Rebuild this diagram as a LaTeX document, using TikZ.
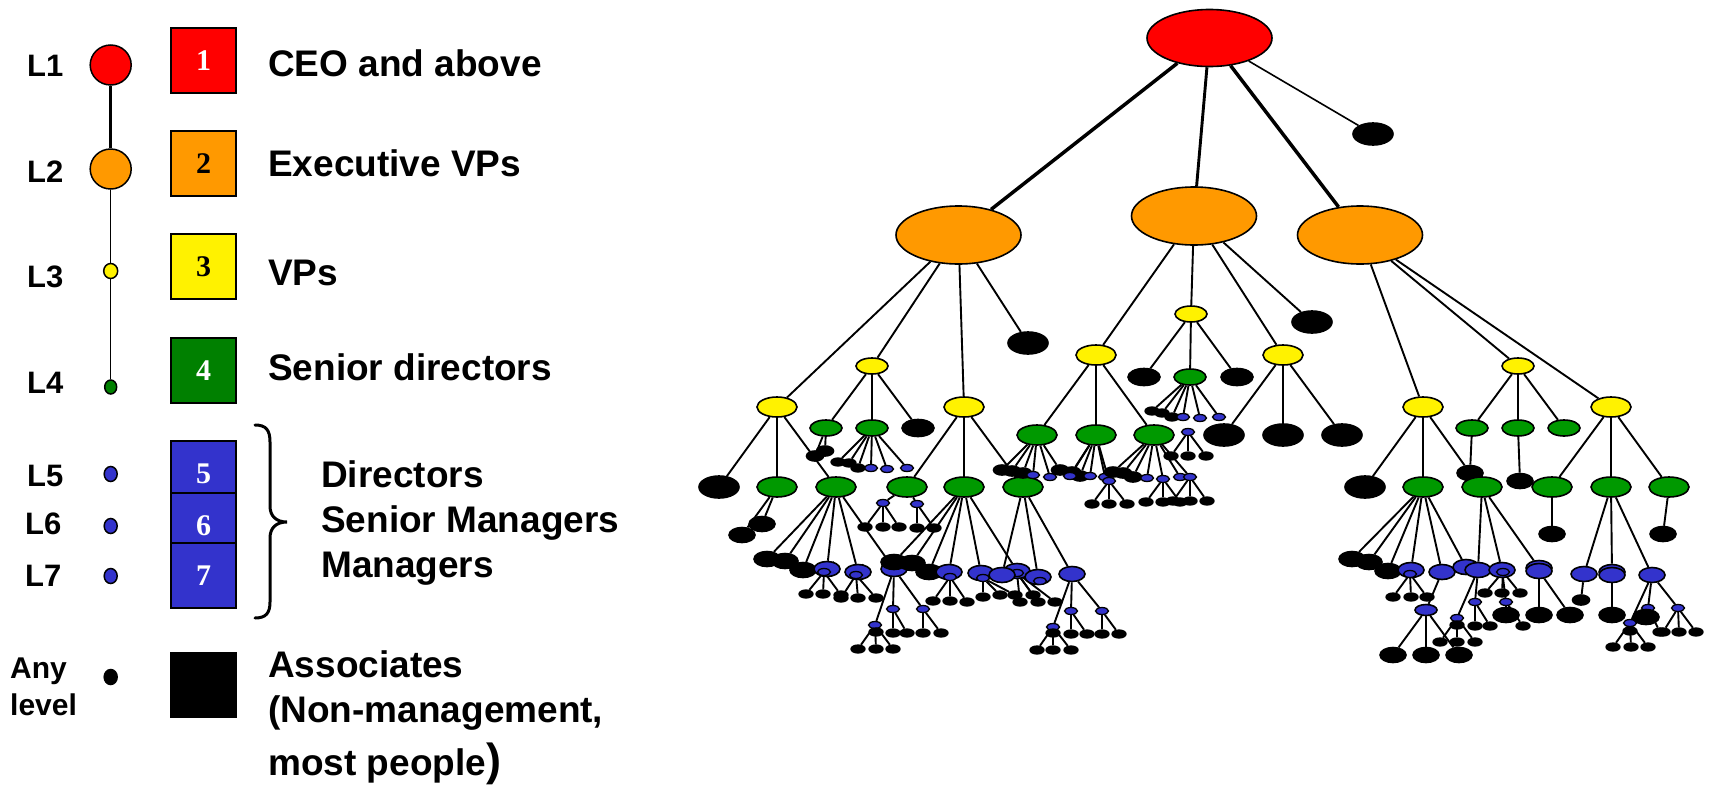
\documentclass[tikz,border=0pt]{standalone}
\usepackage{fontspec}
\setmainfont{Liberation Sans}
\newfontfamily\digitfont{Liberation Serif}
\usetikzlibrary{shapes.geometric}
\pgfdeclarelayer{paper}
\pgfdeclarelayer{links}
\pgfsetlayers{paper,links,main}

\definecolor{evporange}{RGB}{255,153,0}
\definecolor{treegreen}{RGB}{0,153,0}
\definecolor{keygreen}{RGB}{0,128,0}
\definecolor{mgrblue}{RGB}{51,51,204}

\tikzset{
  nd/.style={ellipse, draw=black, line width=1.6pt, inner sep=0pt},
  rootnode/.style={nd, fill=red, minimum width=125pt, minimum height=57pt},
  evp/.style={nd, fill=evporange, minimum width=125pt, minimum height=58pt},
  vpL/.style={nd, fill=yellow, minimum width=40pt, minimum height=20pt},
  vpS/.style={nd, fill=yellow, minimum width=32pt, minimum height=16pt},
  sdL/.style={nd, fill=treegreen, minimum width=40pt, minimum height=20pt},
  sdS/.style={nd, fill=treegreen, minimum width=32pt, minimum height=16pt},
  kL/.style={nd, fill=black, minimum width=40pt, minimum height=22pt},
  kN/.style={nd, fill=black, minimum width=32pt, minimum height=17pt},
  kM/.style={nd, fill=black, minimum width=26pt, minimum height=15pt},
  kS/.style={nd, fill=black, minimum width=17pt, minimum height=10pt},
  kT/.style={nd, fill=black, line width=1.3pt, minimum width=14pt, minimum height=8pt},
  bM/.style={nd, fill=mgrblue, minimum width=26pt, minimum height=15pt},
  bN/.style={nd, fill=mgrblue, minimum width=22pt, minimum height=11pt},
  bS/.style={nd, fill=mgrblue, line width=1.3pt, minimum width=13pt, minimum height=7pt},
  link/.style={line width=1.9pt},
  keydot/.style={ellipse, draw=black, line width=1.5pt, inner sep=0pt},
  keysq/.style={draw=black, line width=1.6pt, minimum size=65pt, inner sep=0pt,
    font={\digitfont\bfseries\fontsize{30}{30}\selectfont}},
  txt/.style={font={\bfseries\fontsize{37}{44}\selectfont}, inner sep=0pt, anchor=base west},
  lvl/.style={font={\bfseries\fontsize{31}{36}\selectfont}, inner sep=0pt, anchor=base west},
  lvlsm/.style={font={\bfseries\fontsize{30}{36}\selectfont}, inner sep=0pt, anchor=base west},
}

% one child node joined to its parent
\newcommand\sub[4]{%
  \node[#1] (#3) at (#4) {};
  \begin{pgfonlayer}{links}\draw[link] (#2) -- (#3);\end{pgfonlayer}}
% a group of children of one style, named prefix-1, prefix-2, ...
\newcommand\kids[4]{%
  \foreach \xx/\yy [count=\ii] in {#4} {%
    \node[#1] (#3-\ii) at (\xx,\yy) {};
    \begin{pgfonlayer}{links}\draw[link] (#2) -- (#3-\ii);\end{pgfonlayer}
  }}

\begin{document}
\begin{tikzpicture}[x=1pt, y=-1pt]
\useasboundingbox (0,0) rectangle (1709,785);
\begin{pgfonlayer}{paper}
  \fill[white] (0,0) rectangle (1709,785);
\end{pgfonlayer}

% ---------------- key ----------------
\node[lvl] (l1) at (27,76) {L1};
\node[lvl] (l2) at (27,182) {L2};
\node[lvl] (l3) at (27,287) {L3};
\node[lvl] (l4) at (27,393) {L4};
\node[lvl] (l5) at (27,486) {L5};
\node[lvl] (l6) at (25,534) {L6};
\node[lvl] (l7) at (25,586) {L7};
\node[lvlsm] (lany) at (10,678) {Any};
\node[lvlsm] (llev) at (10,715) {level};

\node[keydot, fill=red, minimum width=41pt, minimum height=40pt] (c1) at (110.7,65) {};
\node[keydot, fill=evporange, minimum width=41pt, minimum height=40pt] (c2) at (110.7,169) {};
\node[keydot, fill=yellow, minimum width=14pt, minimum height=15pt] (c3) at (110.7,271) {};
\node[keydot, fill=keygreen, minimum width=12pt, minimum height=14pt] (c4) at (110.7,387) {};
\node[keydot, fill=mgrblue, minimum width=13pt, minimum height=15pt] (c5) at (110.7,474) {};
\node[keydot, fill=mgrblue, minimum width=13pt, minimum height=15pt] (c6) at (110.7,526) {};
\node[keydot, fill=mgrblue, minimum width=13pt, minimum height=15pt] (c7) at (110.7,576) {};
\node[keydot, fill=black, minimum width=13pt, minimum height=15pt] (c8) at (110.7,677) {};
\begin{pgfonlayer}{links}
  \draw[line width=3.3pt] (c1) -- (c2);
  \draw[line width=1.4pt] (c2) -- (c3);
  \draw[line width=1.4pt] (c3) -- (c4);
\end{pgfonlayer}

\node[keysq, fill=red, text=white] (s1) at (203.5,60.5) {1};
\node[keysq, fill=evporange, text=black] (s2) at (203.5,163.5) {2};
\node[keysq, fill=yellow, text=black] (s3) at (203.5,266.5) {3};
\node[keysq, fill=keygreen, text=white] (s4) at (203.5,370.5) {4};
\node[keysq, fill=mgrblue, text=white] (s5) at (203.5,473.5) {5};
\node[keysq, fill=mgrblue, text=white] (s6) at (203.5,525.5) {6};
\node[keysq, fill=mgrblue, text=white] (s7) at (203.5,575.5) {7};
\node[keysq, fill=black] (s8) at (203.5,685) {};

\node[txt] (t1) at (268,76) {CEO and above};
\node[txt] (t2) at (268,176) {Executive VPs};
\node[txt] (t3) at (268,285) {VPs};
\node[txt] (t4) at (268,380) {Senior directors};
\node[txt] (t5) at (321,487) {Directors};
\node[txt] (t6) at (321,532) {Senior Managers};
\node[txt] (t7) at (321,577) {Managers};
\node[txt] (t8) at (268,677) {Associates};
\node[txt] (t9) at (268,722) {(Non-management,};
\node[txt] (t10) at (268,775) {most people{\fontsize{45}{45}\selectfont)}};

% brace grouping levels 5 to 7
\draw[line width=3pt, line cap=round]
  (255,425) .. controls (266,425) and (270,430) .. (270,442) -- (270,506)
  .. controls (270,516) and (276,522) .. (287,522)
  .. controls (276,522) and (270,528) .. (270,538) -- (270,602)
  .. controls (270,613) and (266,618) .. (255,618);

% ---------------- tree: top ----------------
\node[rootnode] (ceo) at (1209.5,38) {};
\node[evp] (ev1) at (958.5,235) {};
\node[evp] (ev2) at (1194,216) {};
\node[evp] (ev3) at (1360,235) {};
\node[kL] (a0) at (1373,134) {};
\begin{pgfonlayer}{links}
  \draw[line width=3.5pt] (ceo) -- (ev1);
  \draw[line width=2.9pt] (ceo) -- (ev2);
  \draw[line width=3.5pt] (ceo) -- (ev3);
  \draw[line width=1.6pt] (ceo) -- (a0);
\end{pgfonlayer}

% ---------------- first executive VP ----------------
\sub{vpL}{ev1}{v1}{777,407}
\sub{vpS}{ev1}{v2}{872,366}
\sub{vpL}{ev1}{v3}{964,407}
\sub{kL}{ev1}{a1}{1028,343}

\sub{kL}{v1}{a11}{719,487}
\sub{sdL}{v1}{ga}{777,487}
\sub{sdL}{v1}{gb}{836,487}
\kids{kM}{ga}{gak}{762/524, 742/535}
\kids{kM}{gb}{gbk}{767/559, 785/561, 803/570}
\kids{bM}{gb}{gbb}{827/569, 858/572, 894/569}
\kids{bS}{gbb-1}{gb1i}{824/572}
\kids{kT}{gb1i-1}{gb1k}{806/594, 823/594, 841/595}
\kids{bS}{gbb-2}{gb2i}{856/575}
\kids{kT}{gb2i-1}{gb2k}{841/598, 858/598, 876/598}
\kids{bS}{gbb-3}{gb3b}{893/609, 923/609, 875/625}
\kids{kT}{gb3b-1}{gb31k}{893/633, 907/633}
\kids{kT}{gb3b-2}{gb32k}{923/633, 941/633}
\kids{kT}{gb3b-3}{gb33k}{876/632, 858/649, 876/649, 893/649}

\sub{sdS}{v2}{g21}{826,428}
\sub{sdS}{v2}{g22}{872,428}
\sub{kN}{v2}{a21}{918,428}
\kids{kS}{g21}{g21k}{825/451, 815/456}
\kids{kT}{g22}{g22k}{838/462, 849/463, 858/468}
\kids{bS}{g22}{g22b}{871/468, 887/469, 907/468}

\sub{sdL}{v3}{gc}{907,487}
\sub{sdL}{v3}{gd}{964,487}
\sub{sdL}{v3}{ge}{1023,487}
\kids{bS}{gc}{gcb}{883/503, 917/504}
\kids{kT}{gcb-1}{gc1k}{865/527, 883/527, 899/527}
\kids{kT}{gcb-2}{gc2k}{917/528, 934/528}
\kids{kM}{gd}{gdk}{894/562, 912/563, 929/572}
\kids{bM}{gd}{gdb}{949/572, 981/573, 1017/571}
\kids{bS}{gdb-1}{gd1i}{950/577}
\kids{kT}{gd1i-1}{gd1k}{933/601, 950/601, 967/602}
\kids{bS}{gdb-2}{gd2i}{983/578}
\kids{kT}{gd2i-1}{gd2k}{983/597, 1000/595, 1015/595}
\kids{bS}{gdb-3}{gd3i}{1017/573}
\kids{kT}{gd3i-1}{gd3k}{1020/602, 1033/595, 1038/602, 1055/602}
\kids{bM}{ge}{geb}{1002/575, 1038/577, 1072/574}
\kids{bS}{geb-2}{ge2i}{1040/581}
\kids{bS}{geb-3}{ge3b}{1071/611, 1102/611, 1053/627}
\kids{kT}{ge3b-1}{ge31k}{1071/634, 1087/634}
\kids{kT}{ge3b-2}{ge32k}{1102/634, 1119/634}
\kids{kT}{ge3b-3}{ge33k}{1053/633, 1037/650, 1053/650, 1071/650}

% ---------------- second executive VP ----------------
\sub{vpL}{ev2}{v4}{1096,355}
\sub{vpS}{ev2}{v5}{1191,314}
\sub{vpL}{ev2}{v6}{1283,355}
\sub{kL}{ev2}{a2}{1312,322}

\sub{kN}{v5}{a51}{1144,377}
\sub{sdS}{v5}{g5}{1190,377}
\sub{kN}{v5}{a52}{1237,377}
\kids{kT}{g5}{g5k}{1152/411, 1162/413, 1172/417}
\kids{bS}{g5}{g5b}{1183/417, 1200/418, 1219/417}
\node[bS] (fb1) at (1188,432) {};
\kids{kT}{fb1}{fb1k}{1171/456, 1188/456, 1206/456}

\kids{sdL}{v4}{g4}{1037/435, 1096/435, 1154/435}
\kids{kS}{g4-1}{g41k}{1002/470, 1012/471, 1023/473, 1060/470}
\kids{bS}{g4-1}{g41b}{1033/475, 1050/477}
\kids{kS}{g4-2}{g42k}{1072/472, 1080/476}
\kids{bS}{g4-2}{g42b}{1070/476, 1090/476, 1105/477, 1109/481}
\kids{kT}{g42b-4}{g424k}{1092/504, 1109/504, 1127/504}
\kids{kS}{g4-3}{g43k}{1113/472, 1123/473, 1133/477}
\kids{bS}{g4-3}{g43b}{1147/478, 1163/479, 1180/477, 1190/477}
\kids{kT}{g43b-2}{g432k}{1146/502, 1163/502, 1180/502}
\kids{kT}{g43b-4}{g434k}{1173/501, 1190/501, 1207/501}

\kids{kL}{v6}{v6k}{1224/435, 1283/435, 1342/435}

% ---------------- third executive VP ----------------
\sub{vpL}{ev3}{v7}{1423,407}
\sub{vpS}{ev3}{v8}{1518,366}
\sub{vpL}{ev3}{v9}{1611,407}

\sub{kL}{v7}{a71}{1365,487}
\sub{sdL}{v7}{g7}{1423,487}
\sub{kM}{v7}{a72}{1470,473}
\kids{sdS}{v8}{g8}{1472/428, 1518/428, 1564/428}
\begin{pgfonlayer}{links}\draw[link] (g8-1) -- (a72);\end{pgfonlayer}
\kids{kM}{g8-2}{g82k}{1520/481}
\node[sdL] (g7x) at (1482,487) {};

\kids{sdL}{v9}{g9}{1552/487, 1611/487, 1669/487}
\kids{kM}{g9-1}{g91k}{1552/534}
\kids{kM}{g9-3}{g93k}{1663/534}
\kids{bM}{g9-2}{g92b}{1584/574, 1612/572, 1652/575}
\kids{bM}{g92b-2}{g922i}{1612/575}
\kids{kS}{g92b-1}{g921k}{1581/600}
\kids{kM}{g922i-1}{g922k}{1612/615}
\kids{bS}{g92b-3}{g923b}{1648/608, 1678/608, 1630/623}
\kids{kM}{g923b-1}{g9231k}{1646/617}
\kids{kT}{g923b-1}{g9231t}{1660/632}
\kids{kT}{g923b-2}{g9232k}{1663/632, 1679/632, 1696/632}
\kids{kT}{g923b-3}{g9233k}{1630/631, 1613/647, 1631/647, 1648/647}

\kids{kM}{g7}{g7k}{1352/559, 1369/562, 1388/571}
\kids{bM}{g7}{g7b}{1411/570, 1442/572, 1466/567}
\kids{bS}{g7b-1}{g71i}{1410/574}
\kids{kT}{g71i-1}{g71k}{1393/597, 1411/597, 1427/597}
\kids{bN}{g7b-2}{g72b}{1426/610}
\kids{kM}{g72b-1}{g72k}{1393/655, 1426/655, 1459/655}

\kids{bM}{g7x}{g7xb}{1478/570, 1502/570, 1539/568}
\kids{bM}{g7xb-3}{g7x3i}{1539/571}
\kids{bS}{g7xb-1}{g7x1b}{1475/602, 1457/618}
\kids{kT}{g7x1b-1}{g7x11k}{1475/626, 1490/626}
\kids{kT}{g7x1b-2}{g7x12k}{1457/625, 1440/642, 1457/642, 1475/642}
\kids{bS}{g7xb-2}{g7x2i}{1503/572}
\kids{kT}{g7x2i-1}{g7x2k}{1485/593, 1502/593, 1520/593}
\kids{bS}{g7xb-2}{g7x2b}{1506/602}
\kids{kM}{g7x2b-1}{g7x2bk}{1506/615}
\kids{kT}{g7x2b-1}{g7x2bt}{1523/626}
\kids{kM}{g7x3i-1}{g7x3k}{1539/615, 1570/615}

\end{tikzpicture}
\end{document}
